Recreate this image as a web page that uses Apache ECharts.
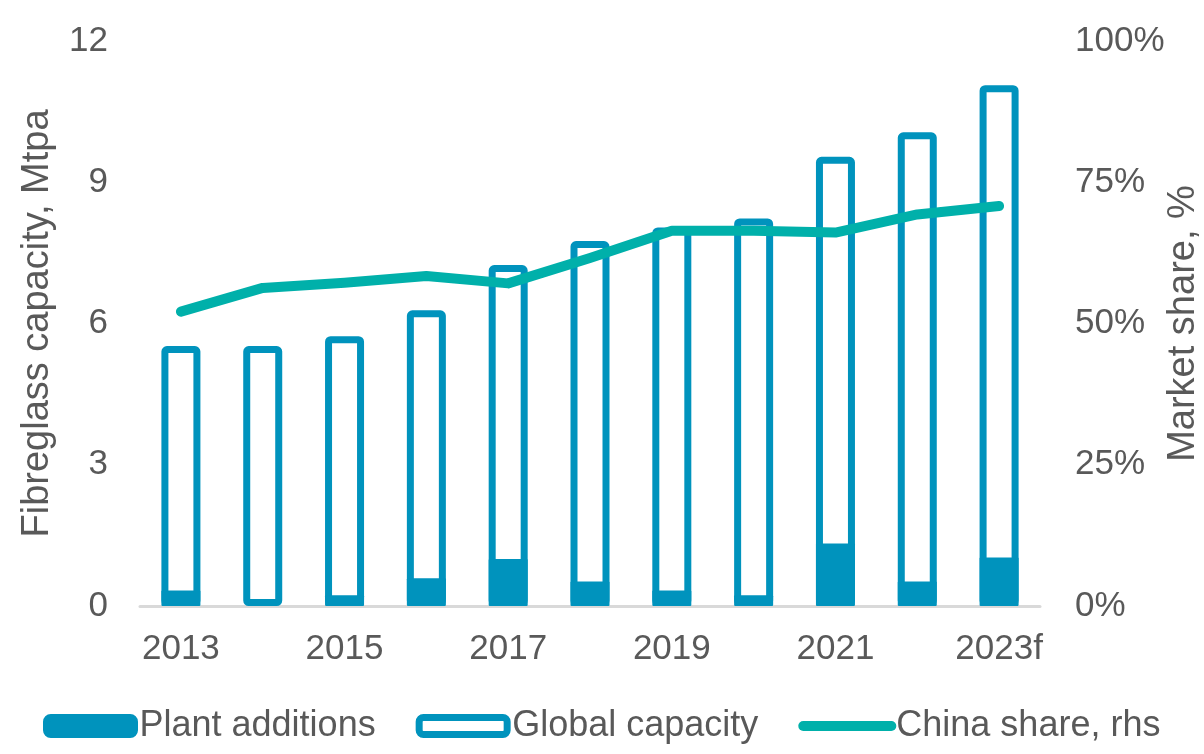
<!DOCTYPE html>
<html>
<head>
<meta charset="utf-8">
<script src="https://cdn.jsdelivr.net/npm/echarts@6/dist/echarts.min.js"></script>
<style>
html,body{margin:0;padding:0;background:#fff;}
#chart{width:1204px;height:754px;}
</style>
</head>
<body>
<div id="chart"></div>
<script>
const years = ['2013','2014','2015','2016','2017','2018','2019','2020','2021','2022','2023f'];
const plantAdditions = [0.33, 0, 0.23, 0.59, 1.0, 0.52, 0.33, 0.23, 1.33, 0.52, 1.03];
const globalCapacity = [5.52, 5.52, 5.73, 6.28, 7.24, 7.75, 8.04, 8.23, 9.54, 10.06, 11.06];
const chinaShare = [52.1, 56.3, 57.2, 58.4, 57.1, 61.6, 66.4, 66.4, 66.1, 69.3, 70.8];

const blue = '#0093BD';
const teal = '#00B0AA';
const grey = '#595959';
const font = 'Liberation Sans, Arial, sans-serif';

const chart = echarts.init(document.getElementById('chart'));
chart.setOption({
  animation: false,
  textStyle: { fontFamily: font },
  grid: { left: 140, right: 164, top: 41, bottom: 148, containLabel: false, outerBoundsMode: 'none' },
  legend: {
    top: 703, left: 38,
    itemWidth: 88, itemHeight: 17, itemGap: 40,
    textStyle: { fontSize: 36, color: grey, fontFamily: font },
    data: [
      { name: 'Plant additions', itemStyle: { color: blue, borderColor: blue, borderWidth: 7 } },
      { name: 'Global capacity', itemStyle: { color: '#ffffff', borderColor: blue, borderWidth: 7 } },
      { name: 'China share, rhs', itemStyle: { opacity: 0 },
        lineStyle: { color: teal, width: 10, cap: 'round' } }
    ]
  },
  xAxis: {
    type: 'category', data: years,
    axisLine: { lineStyle: { color: '#D9D9D9', width: 3 } },
    axisTick: { show: false },
    axisLabel: { interval: 1, fontSize: 35, color: grey, margin: 26, fontFamily: font }
  },
  yAxis: [
    {
      type: 'value', min: 0, max: 12, interval: 3,
      name: 'Fibreglass capacity, Mtpa', nameLocation: 'middle', nameGap: 83,
      nameTextStyle: { fontSize: 38, color: grey, fontFamily: font },
      axisLine: { show: false }, axisTick: { show: false }, splitLine: { show: false },
      axisLabel: { fontSize: 35, color: grey, margin: 32, fontFamily: font }
    },
    {
      type: 'value', min: 0, max: 100, interval: 25,
      name: 'Market share, %', nameLocation: 'middle', nameGap: 125,
      nameRotate: 90, nameMoveOverlap: false,
      nameTextStyle: { fontSize: 38, color: grey, fontFamily: font },
      axisLine: { show: false }, axisTick: { show: false }, splitLine: { show: false },
      axisLabel: { fontSize: 35, color: grey, margin: 35, formatter: '{value}%', fontFamily: font }
    }
  ],
  series: [
    {
      name: 'Global capacity', type: 'bar', data: globalCapacity,
      barWidth: 39, barGap: '-100%',
      itemStyle: { color: '#ffffff', borderColor: blue, borderWidth: 7, borderRadius: 2 },
      z: 2
    },
    {
      name: 'Plant additions', type: 'bar', data: plantAdditions,
      barWidth: 39, barGap: '-100%',
      itemStyle: { color: blue, borderColor: blue, borderWidth: 0, borderRadius: 1 },
      z: 3
    },
    {
      name: 'China share, rhs', type: 'line', yAxisIndex: 1, data: chinaShare,
      symbol: 'none', lineStyle: { color: teal, width: 10, cap: 'round', join: 'round' },
      itemStyle: { color: teal },
      z: 4
    }
  ]
});
</script>
</body>
</html>
